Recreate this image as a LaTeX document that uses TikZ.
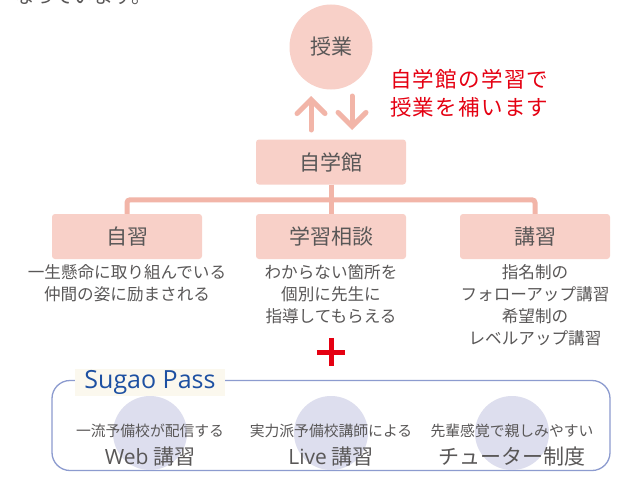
\documentclass[tikz,border=0pt]{standalone}
\usepackage{fontspec}
\setmainfont{Noto Sans CJK JP}
\newfontfamily\latinsans{Open Sans}
\usetikzlibrary{arrows.meta,shapes.geometric}
\definecolor{pinkfill}{HTML}{F8D0C8}
\definecolor{pinkline}{HTML}{F2B5A8}
\definecolor{txtgray}{HTML}{595757}
\definecolor{accred}{HTML}{E50012}
\definecolor{passblue}{HTML}{1D50A2}
\definecolor{framecol}{HTML}{8C9BCF}
\definecolor{lavender}{HTML}{DDDEEE}
\definecolor{cream}{HTML}{FBF8EE}
\tikzset{
  pinkbox/.style={fill=pinkfill, rounded corners=3pt, minimum width=150pt, minimum height=45pt, inner sep=0pt, text=txtgray, font=\fontsize{21}{24}\selectfont},
  desc/.style={text=txtgray, align=center, inner sep=0pt, font=\fontsize{16.6}{22}\selectfont},
  conn/.style={draw=pinkline, line width=5pt, rounded corners=3pt},
  bigarrow/.style={draw=pinkline, line width=5pt, line cap=round, -{Straight Barb[length=14pt,width=28pt,line cap=round]}},
  softcircle/.style={fill=lavender, circle, minimum size=74pt, inner sep=0pt},
  small/.style={text=txtgray, inner sep=0pt, font=\fontsize{14.8}{16}\selectfont},
  big/.style={text=txtgray, inner sep=0pt, font=\fontsize{21}{24}\selectfont},
}
\begin{document}
\begin{tikzpicture}[x=1pt, y=-1pt]
\useasboundingbox (0,0) rectangle (631,487);
\clip (0,0) rectangle (631,487);
\fill[white] (0,0) rectangle (631,487);

% cut-off text at top
\node[anchor=base west, inner sep=0pt, text=txtgray, font=\fontsize{20}{22}\selectfont] (toptext) at (14,4) {なっています。};

% lesson ellipse
\node[fill=pinkfill, ellipse, minimum width=83pt, minimum height=85pt, inner sep=0pt, text=txtgray, font=\fontsize{21}{24}\selectfont] (jugyo) at (331,47) {授業};

% arrows
\coordinate (upS) at (311,130);
\coordinate (upE) at (311,96);
\coordinate (dnS) at (352,96);
\coordinate (dnE) at (352,130);
\draw[bigarrow] (upS) -- (upE);
\draw[bigarrow] (dnS) -- (dnE);

% red note
\node[text=accred, align=left, anchor=north west, inner sep=0pt, font=\fontsize{21.5}{28}\selectfont] (note) at (390,69) {\addfontfeature{LetterSpace=6}自学館の学習で\\[0pt]\addfontfeature{LetterSpace=6}授業を補います};

% boxes
\node[pinkbox] (jigaku) at (331,162) {自学館};
\node[pinkbox] (jishu) at (127,236.5) {自習};
\node[pinkbox] (soudan) at (331,236.5) {学習相談};
\node[pinkbox] (koushu) at (535,236.5) {講習};

% connectors
\draw[conn] (jigaku.south) -- (soudan.north);
\draw[conn] (jishu.north) -- ++(0,-14) -| (koushu.north);

% descriptions
\node[desc, anchor=north] (d1) at (127,264) {一生懸命に取り組んでいる\\仲間の姿に励まされる};
\node[desc, anchor=north] (d2) at (331,264) {わからない箇所を\\個別に先生に\\指導してもらえる};
\node[desc, anchor=north] (d3) at (535,264) {指名制の\\フォローアップ講習\\希望制の\\レベルアップ講習};

% plus
\node[inner sep=0pt, minimum size=28pt] (plus) at (331,352) {};
\draw[accred, line width=5pt] (plus.west) -- (plus.east) (plus.north) -- (plus.south);

% Sugao Pass frame
\node[draw=framecol, line width=1.3pt, rounded corners=18pt, minimum width=558pt, minimum height=90pt, inner sep=0pt] (frame) at (331,425.5) {};

\node[softcircle] (c1) at (150,433) {};
\node[softcircle] (c2) at (331,433) {};
\node[softcircle] (c3) at (512,433) {};

\node[small] (s1) at (150,431) {一流予備校が配信する};
\node[big] (b1) at (150,457) {{\latinsans Web} 講習};
\node[small] (s2) at (331,431) {実力派予備校講師による};
\node[big] (b2) at (331,457) {{\latinsans Live} 講習};
\node[small] (s3) at (512,431) {先輩感覚で親しみやすい};
\node[big] (b3) at (512,457) {チューター制度};

\node[fill=cream, minimum width=150pt, minimum height=27pt, inner sep=0pt, text=passblue, font=\latinsans\fontsize{25}{28}\selectfont] (pass) at (150,382) {Sugao Pass};
\end{tikzpicture}
\end{document}
